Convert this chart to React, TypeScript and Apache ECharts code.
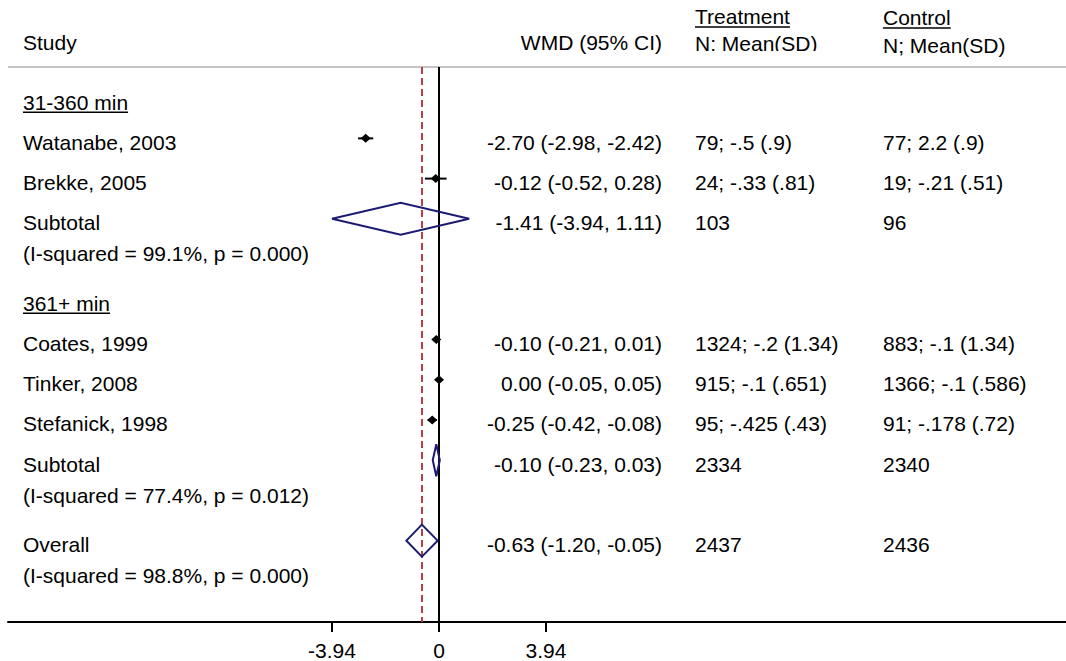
import React, { useEffect, useRef } from "react";
import * as echarts from "echarts";

// ---- data ----
const rowIndex = [1, 2, 3, 6, 7, 8, 9, 11];
const rowKind = ["study", "study", "diamond", "study", "study", "study", "diamond", "diamond"];
const rowLabel = ["Watanabe, 2003", "Brekke, 2005", "Subtotal", "Coates, 1999", "Tinker, 2008", "Stefanick, 1998", "Subtotal", "Overall"];
const est = [-2.7, -0.12, -1.41, -0.1, 0.0, -0.25, -0.1, -0.63];
const lo = [-2.98, -0.52, -3.94, -0.21, -0.05, -0.42, -0.23, -1.2];
const hi = [-2.42, 0.28, 1.11, 0.01, 0.05, -0.08, 0.03, -0.05];
const treatment = ["79; -.5 (.9)", "24; -.33 (.81)", "103", "1324; -.2 (1.34)", "915; -.1 (.651)", "95; -.425 (.43)", "2334", "2437"];
const control = ["77; 2.2 (.9)", "19; -.21 (.51)", "96", "883; -.1 (1.34)", "1366; -.1 (.586)", "91; -.178 (.72)", "2340", "2436"];
const heterogeneity = ["", "", "(I-squared = 99.1%, p = 0.000)", "", "", "", "(I-squared = 77.4%, p = 0.012)", "(I-squared = 98.8%, p = 0.000)"];
const groupRows = [0, 5];
const groupLabels = ["31-360 min", "361+ min"];
const xTicks = [-3.94, 0, 3.94];
const overallEffect = -0.63;

const FONT = '"Liberation Sans", Arial, Helvetica, sans-serif';
const FS = 21;

function textWidth(s: string): number {
  const c = document.createElement("canvas").getContext("2d");
  if (!c) return s.length * 10;
  c.font = `${FS}px ${FONT}`;
  return c.measureText(s).width;
}

const fmt = (v: number) => (Math.abs(v) < 1e-9 ? 0 : v).toFixed(2);

export default function App() {
  const ref = useRef<HTMLDivElement>(null);
  useEffect(() => {
    if (!ref.current) return;
    const chart = echarts.init(ref.current, undefined, { renderer: "svg" });

    const left = 8;
    const right = 1066;
    const top = 67;
    const axisY = 623;
    const zeroX = 439;
    const pxPerUnit = 107 / 3.94;
    const xMin = (left - zeroX) / pxPerUnit;
    const xMax = (right - zeroX) / pxPerUnit;
    const rowPx = 40.3;
    const firstRowY = 98.2;
    const yMin = -(firstRowY - top) / rowPx;
    const yMax = yMin + (axisY - top) / rowPx;

    const colStudy = 23;
    const colWmd = 662;
    const colTrt = 695;
    const colCtl = 883;
    const textDy = 4;

    const txt = (text: string, x: number, y: number, align = "left") => ({
      type: "text",
      x,
      y,
      style: {
        text,
        fill: "#000",
        fontSize: FS,
        fontFamily: FONT,
        align,
        verticalAlign: "middle",
      },
    });

    const markData = rowIndex.map((r, i) => [est[i], r, lo[i], hi[i]]);
    const textData = rowIndex.map((r) => [0, r]);
    const groupData = groupRows.map((r) => [0, r]);

    const option: any = {
      animation: false,
      grid: { left, right: 1066 - right, top, bottom: 661 - axisY },
      xAxis: {
        type: "value",
        min: xMin,
        max: xMax,
        axisLine: { show: true, onZero: false, lineStyle: { color: "#000", width: 2 } },
        axisTick: { show: true, customValues: xTicks, length: 10, lineStyle: { color: "#000", width: 2 } },
        axisLabel: {
          customValues: xTicks,
          formatter: (v: number) => (Math.abs(v) < 1e-9 ? "0" : v.toFixed(2)),
          fontSize: FS,
          fontFamily: FONT,
          color: "#000",
          margin: 18,
        },
        splitLine: { show: false },
      },
      yAxis: { type: "value", inverse: true, min: yMin, max: yMax, show: false },
      series: [
        {
          type: "custom",
          name: "marks",
          clip: false,
          z: 5,
          data: markData,
          encode: { x: [0, 2, 3], y: 1 },
          renderItem: (params: any, api: any) => {
            const i = params.dataIndex;
            const yv = api.value(1);
            const pe = api.coord([api.value(0), yv]);
            const pl = api.coord([api.value(2), yv]);
            const ph = api.coord([api.value(3), yv]);
            const y = pe[1];
            if (rowKind[i] === "study") {
              return {
                type: "group",
                children: [
                  {
                    type: "line",
                    shape: { x1: pl[0], y1: y, x2: ph[0], y2: y },
                    style: { stroke: "#000", lineWidth: 2 },
                  },
                  {
                    type: "polygon",
                    shape: { points: [[pe[0] - 5, y], [pe[0], y - 4.5], [pe[0] + 5, y], [pe[0], y + 4.5]] },
                    style: { fill: "#000" },
                  },
                ],
              };
            }
            return {
              type: "polygon",
              shape: { points: [[pl[0], y], [pe[0], y - 16], [ph[0], y], [pe[0], y + 16]] },
              style: { fill: "none", stroke: "#1b1b72", lineWidth: 2 },
            };
          },
          markLine: {
            silent: true,
            symbol: ["none", "none"],
            label: { show: false },
            data: [
              { xAxis: 0, lineStyle: { color: "#000", width: 2, type: "solid" } },
              { xAxis: overallEffect, lineStyle: { color: "#b5404a", width: 2, type: [7, 4] } },
            ],
          },
        },
        {
          type: "custom",
          name: "texts",
          clip: false,
          z: 6,
          data: textData,
          encode: { x: 0, y: 1 },
          renderItem: (params: any, api: any) => {
            const i = params.dataIndex;
            const y = api.coord([0, api.value(1)])[1] + textDy;
            const children: any[] = [
              txt(rowLabel[i], colStudy, y),
              txt(`${fmt(est[i])} (${fmt(lo[i])}, ${fmt(hi[i])})`, colWmd, y, "right"),
              txt(treatment[i], colTrt, y),
              txt(control[i], colCtl, y),
            ];
            if (heterogeneity[i]) children.push(txt(heterogeneity[i], colStudy, y + 31));
            return { type: "group", children };
          },
        },
        {
          type: "custom",
          name: "groups",
          clip: false,
          z: 6,
          data: groupData,
          encode: { x: 0, y: 1 },
          renderItem: (params: any, api: any) => {
            const i = params.dataIndex;
            const y = api.coord([0, api.value(1)])[1] + textDy;
            const w = textWidth(groupLabels[i]);
            return {
              type: "group",
              children: [
                txt(groupLabels[i], colStudy, y),
                {
                  type: "line",
                  shape: { x1: colStudy, y1: y + 10, x2: colStudy + w, y2: y + 10 },
                  style: { stroke: "#000", lineWidth: 1.5 },
                },
              ],
            };
          },
        },
      ],
      graphic: [
        { type: "line", shape: { x1: left, y1: top, x2: right, y2: top }, style: { stroke: "#c4c4c4", lineWidth: 2 }, z: 1 },
        { ...txt("Study", colStudy, 42), z: 10 },
        { ...txt("WMD (95% CI)", colWmd, 42, "right"), z: 10 },
        { ...txt("Treatment", colTrt, 16), z: 10 },
        { type: "line", shape: { x1: colTrt, y1: 27, x2: colTrt + textWidth("Treatment"), y2: 27 }, style: { stroke: "#000", lineWidth: 1.5 }, z: 10 },
        { ...txt("N: Mean(SD)", colTrt, 43), z: 10 },
        { type: "rect", shape: { x: colTrt - 4, y: 51, width: 150, height: 10 }, style: { fill: "#fff" }, z: 11 },
        { ...txt("Control", colCtl, 17), z: 10 },
        { type: "line", shape: { x1: colCtl, y1: 28, x2: colCtl + textWidth("Control"), y2: 28 }, style: { stroke: "#000", lineWidth: 1.5 }, z: 10 },
        { ...txt("N; Mean(SD)", colCtl, 45), z: 10 },
      ],
    };
    chart.setOption(option);
    return () => chart.dispose();
  }, []);
  return <div ref={ref} style={{ position: "fixed", left: 0, top: 0, width: 1066, height: 661, background: "#fff" }} />;
}
